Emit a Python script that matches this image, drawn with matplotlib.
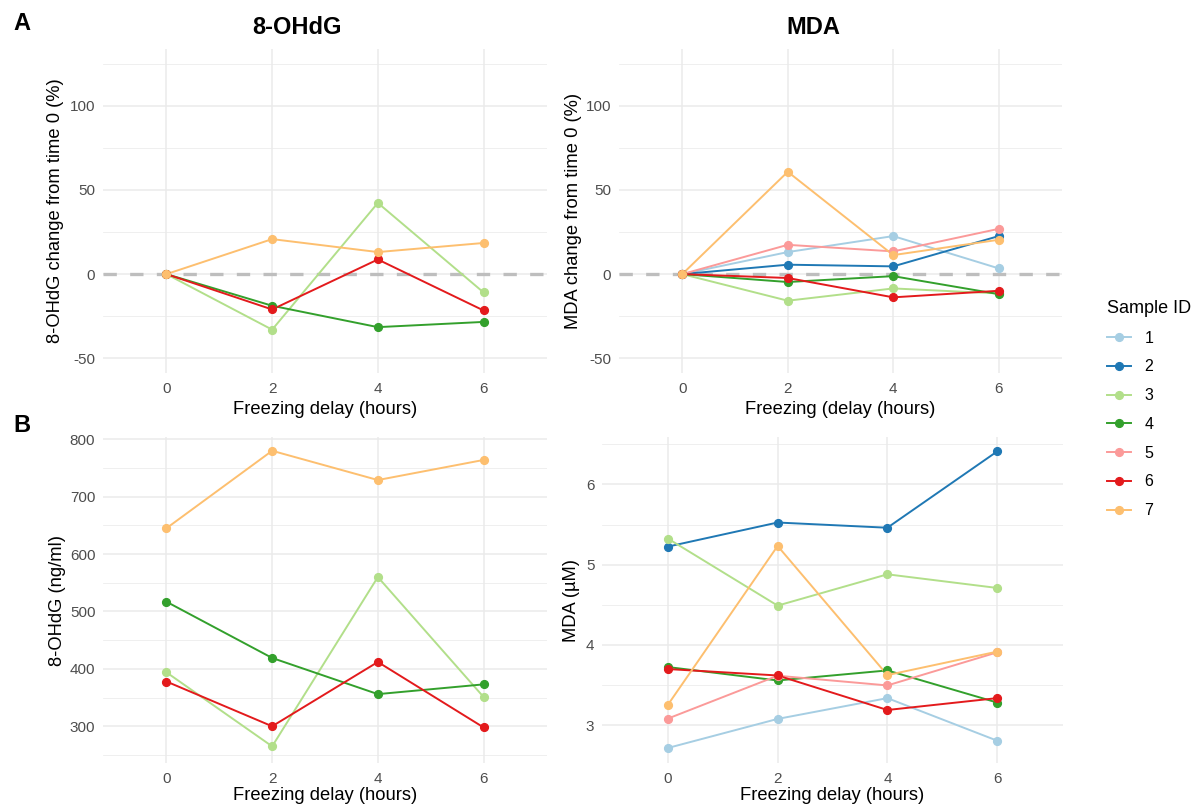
import matplotlib
matplotlib.use("Agg")
import matplotlib.pyplot as plt
from matplotlib.ticker import FixedLocator
from matplotlib.lines import Line2D

plt.rcParams['font.family'] = ['Liberation Sans', 'DejaVu Sans']
plt.rcParams['axes.unicode_minus'] = False

# ---------------- data ----------------
hours = [0, 2, 4, 6]
x_ticks = [0, 2, 4, 6]

sample_ids = [1, 2, 3, 4, 5, 6, 7]
sample_colors = ['#A6CEE3', '#1F78B4', '#B2DF8A', '#33A02C', '#FB9A99', '#E31A1C', '#FDBF6F']

# 8-OHdG (only samples 3, 4, 6, 7)
ohdg_ids = [3, 4, 6, 7]
ohdg_pct_3 = [0, -33.0, 42.3, -10.9]
ohdg_pct_4 = [0, -18.8, -31.5, -28.4]
ohdg_pct_6 = [0, -21.0, 8.7, -21.6]
ohdg_pct_7 = [0, 20.8, 13.1, 18.5]

ohdg_conc_3 = [394, 265, 560, 351]
ohdg_conc_4 = [517, 419, 356, 373]
ohdg_conc_6 = [378, 300, 412, 298]
ohdg_conc_7 = [645, 780, 729, 764]

# MDA (samples 1-7)
mda_pct_1 = [0, 13.1, 22.6, 3.4]
mda_pct_2 = [0, 5.6, 4.6, 22.6]
mda_pct_3 = [0, -15.8, -8.5, -11.5]
mda_pct_4 = [0, -4.7, -1.2, -11.9]
mda_pct_5 = [0, 17.4, 13.5, 26.9]
mda_pct_6 = [0, -2.3, -13.8, -9.9]
mda_pct_7 = [0, 60.8, 11.3, 20.4]

mda_conc_1 = [2.717, 3.079, 3.338, 2.808]
mda_conc_2 = [5.225, 5.525, 5.46, 6.41]
mda_conc_3 = [5.325, 4.49, 4.88, 4.71]
mda_conc_4 = [3.725, 3.558, 3.683, 3.283]
mda_conc_5 = [3.083, 3.617, 3.496, 3.908]
mda_conc_6 = [3.70, 3.62, 3.19, 3.338]
mda_conc_7 = [3.254, 5.233, 3.625, 3.917]

pct_major = [-50, 0, 50, 100]
pct_minor = [-25, 25, 75, 125]
ohdg_major = [300, 400, 500, 600, 700, 800]
ohdg_minor = [250, 350, 450, 550, 650, 750]
mda_major = [3, 4, 5, 6]
mda_minor = [2.5, 3.5, 4.5, 5.5, 6.5]

ohdg_pct = {3: ohdg_pct_3, 4: ohdg_pct_4, 6: ohdg_pct_6, 7: ohdg_pct_7}
ohdg_conc = {3: ohdg_conc_3, 4: ohdg_conc_4, 6: ohdg_conc_6, 7: ohdg_conc_7}
mda_pct = {1: mda_pct_1, 2: mda_pct_2, 3: mda_pct_3, 4: mda_pct_4,
           5: mda_pct_5, 6: mda_pct_6, 7: mda_pct_7}
mda_conc = {1: mda_conc_1, 2: mda_conc_2, 3: mda_conc_3, 4: mda_conc_4,
            5: mda_conc_5, 6: mda_conc_6, 7: mda_conc_7}
color_of = dict(zip(sample_ids, sample_colors))

# ---------------- figure ----------------
W, H = 1194, 805
fig = plt.figure(figsize=(W / 100, H / 100), dpi=100)


def add_ax(x0, y0, x1, y1):
    return fig.add_axes([x0 / W, (H - y1) / H, (x1 - x0) / W, (y1 - y0) / H])


GRID = '#EBEBEB'
TICK_COL = '#4D4D4D'
LAB_FS = 13.2
TICK_FS = 11


def style(ax, major, minor, ylim, xlabel, ylabel, ylab_x, xlab_y, zero=False):
    ax.set_xlim(-1.2, 7.2)
    ax.set_ylim(*ylim)
    ax.xaxis.set_major_locator(FixedLocator(x_ticks))
    ax.yaxis.set_major_locator(FixedLocator(major))
    ax.yaxis.set_minor_locator(FixedLocator(minor))
    for s in ax.spines.values():
        s.set_visible(False)
    ax.set_facecolor('white')
    ax.grid(True, which='major', color=GRID, lw=1.1, zorder=0)
    ax.grid(True, which='minor', axis='y', color=GRID, lw=0.55, zorder=0)
    ax.set_axisbelow(True)
    ax.tick_params(which='both', length=0)
    ax.tick_params(axis='x', labelsize=TICK_FS, labelcolor=TICK_COL, pad=6.5)
    ax.tick_params(axis='y', labelsize=TICK_FS, labelcolor=TICK_COL, pad=5.5)
    ax.set_xlabel(xlabel, fontsize=LAB_FS, va='center')
    ax.set_ylabel(ylabel, fontsize=LAB_FS, va='center')
    ax.yaxis.set_label_coords(ylab_x, 0.5)
    ax.xaxis.set_label_coords(0.5, xlab_y)
    if zero:
        ax.axhline(0, color='#BEBEBE', lw=2.4, ls=(0, (4, 4)), zorder=1)


def draw(ax, ids, data):
    for sid in ids:
        ax.plot(hours, data[sid], color=color_of[sid], lw=1.4, zorder=2,
                solid_capstyle='butt')
    for sid in ids:
        ax.plot(hours, data[sid], color=color_of[sid], marker='o',
                ms=5.6, ls='none', zorder=3, label=str(sid))


# panel A left
axA1 = add_ax(103, 49, 547, 373)
style(axA1, pct_major, pct_minor, (-58.75, 133.75), 'Freezing delay (hours)',
      '8-OHdG change from time 0 (%)', (56 - 103) / 444, (373 - 409) / 324, zero=True)
draw(axA1, ohdg_ids, ohdg_pct)

# panel A right
axA2 = add_ax(619, 49, 1062, 373)
style(axA2, pct_major, pct_minor, (-58.75, 133.75), 'Freezing (delay (hours)',
      'MDA change from time 0 (%)', (573 - 619) / 443, (373 - 409) / 324, zero=True)
draw(axA2, sample_ids, mda_pct)

# panel B left
axB1 = add_ax(103, 437, 547, 763)
style(axB1, ohdg_major, ohdg_minor, (236, 804), 'Freezing delay (hours)',
      '8-OHdG (ng/ml)', (57 - 103) / 444, (763 - 795) / 326)
draw(axB1, ohdg_ids, ohdg_conc)

# panel B right
axB2 = add_ax(602, 437, 1063, 763)
style(axB2, mda_major, mda_minor, (2.53, 6.59), 'Freezing delay (hours)',
      'MDA (\u00b5M)', (572 - 602) / 461, (763 - 795) / 326)
draw(axB2, sample_ids, mda_conc)

# titles and tags
fig.text(297 / W, 1 - 27 / H, '8-OHdG', fontsize=17, fontweight='bold',
         ha='center', va='center')
fig.text(813 / W, 1 - 27 / H, 'MDA', fontsize=17, fontweight='bold',
         ha='center', va='center')
fig.text(22 / W, 1 - 23 / H, 'A', fontsize=17, fontweight='bold', ha='center', va='center')
fig.text(22 / W, 1 - 425 / H, 'B', fontsize=17, fontweight='bold', ha='center', va='center')

# legend (line + point keys)
leg_handles = [Line2D([], [], color=c, lw=1.4, marker='o', ms=5.6) for c in sample_colors]
leg = fig.legend(leg_handles, [str(s) for s in sample_ids], title='Sample ID',
                 loc='upper left', bbox_to_anchor=(1107 / W, 1 - 300 / H),
                 frameon=False, fontsize=11.5, title_fontsize=13,
                 handlelength=1.5, handletextpad=0.85, labelspacing=0.86,
                 borderpad=0, borderaxespad=0, alignment='left')

fig.savefig('out.png', dpi=100, facecolor='white')
